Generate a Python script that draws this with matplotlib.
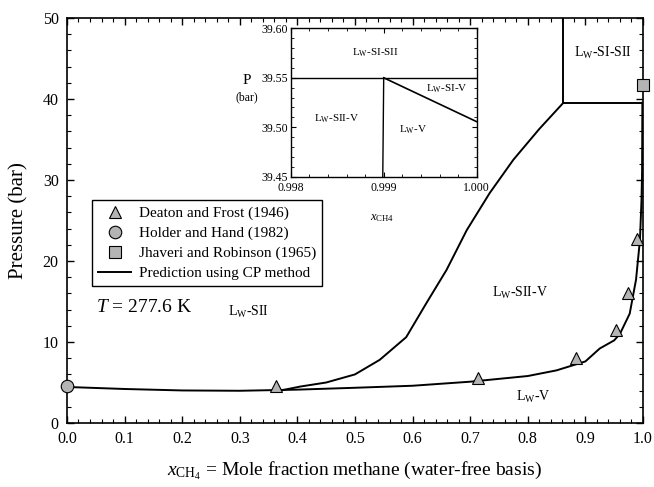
import numpy as np
import matplotlib
matplotlib.use('Agg')
import matplotlib.pyplot as plt
from matplotlib.ticker import MultipleLocator, FormatStrFormatter

plt.rcParams['font.family'] = ['Liberation Serif', 'DejaVu Serif']
plt.rcParams['mathtext.fontset'] = 'custom'
plt.rcParams['mathtext.rm'] = 'Liberation Serif'
plt.rcParams['mathtext.it'] = 'Liberation Serif:italic'

# experimental data
deaton_x = [0.363, 0.713, 0.884, 0.953, 0.9745, 0.990]
deaton_p = [4.6, 5.6, 8.0, 11.5, 16.0, 22.7]
holder_x = [0.0]
holder_p = [4.6]
jhaveri_x = [1.0]
jhaveri_p = [41.7]

# CP prediction: Lw-V / Lw-SII-V boundary
lower_x = [0.0, 0.1, 0.2, 0.3, 0.4, 0.5, 0.6, 0.7, 0.8, 0.85, 0.9, 0.925,
           0.95, 0.96, 0.977, 0.988, 0.9948, 0.9975, 0.9985, 0.9988, 0.999]
lower_p = [4.45, 4.2, 4.02, 3.98, 4.12, 4.35, 4.6, 5.1, 5.8, 6.5, 7.6, 9.2,
           10.2, 11.0, 13.5, 17.7, 22.6, 27.5, 31.0, 35.8, 39.55]
# Lw-SII / Lw-SII-V boundary
upper_x = [0.37, 0.405, 0.45, 0.5, 0.543, 0.589, 0.624, 0.659, 0.694, 0.734,
           0.775, 0.82, 0.862]
upper_p = [4.0, 4.5, 5.0, 6.0, 7.8, 10.6, 14.8, 18.9, 23.8, 28.4,
           32.5, 36.3, 39.55]
# quadruple point lines
quad_x = 0.862
quad_p = 39.55

# inset (zoom near pure methane)
in_h_x = [0.998, 1.000]
in_h_p = [39.55, 39.55]
in_v_x = [0.99899, 0.999]
in_v_p = [39.45, 39.55]
in_d_x = [0.999, 1.000]
in_d_p = [39.55, 39.5056]

gray = '#b4b4b4'

fig = plt.figure(figsize=(6.54, 4.87), dpi=100)
ax = fig.add_axes([0.1024, 0.1314, 0.8807, 0.8316])

ax.plot(lower_x, lower_p, color='k', lw=1.4, zorder=2)
ax.plot(upper_x, upper_p, color='k', lw=1.4, zorder=2)
ax.plot([quad_x, 1.0], [quad_p, quad_p], color='k', lw=1.4, zorder=2)
ax.plot([quad_x, quad_x], [quad_p, 50], color='k', lw=1.4, zorder=2)
h0 = ax.get_lines()[0]

h1, = ax.plot(deaton_x, deaton_p, '^', ms=9, mfc=gray, mec='k', mew=0.8, ls='none',
              zorder=3, clip_on=False)
h2, = ax.plot(holder_x, holder_p, 'o', ms=9, mfc=gray, mec='k', mew=0.8, ls='none',
              zorder=3, clip_on=False)
h3, = ax.plot(jhaveri_x, jhaveri_p, 's', ms=8, mfc=gray, mec='k', mew=0.8, ls='none',
              zorder=3, clip_on=False)

ax.set_xlim(0, 1.0)
ax.set_ylim(0, 50)
ax.xaxis.set_major_locator(MultipleLocator(0.1))
ax.xaxis.set_minor_locator(MultipleLocator(0.02))
ax.yaxis.set_major_locator(MultipleLocator(10))
ax.yaxis.set_minor_locator(MultipleLocator(2))
ax.xaxis.set_major_formatter(FormatStrFormatter('%.1f'))
ax.tick_params(which='both', direction='in', top=True, right=True, labelsize=11.5, pad=6)
ax.tick_params(which='major', length=5, width=1)
ax.tick_params(which='minor', length=3, width=0.8)
for s in ax.spines.values():
    s.set_linewidth(1.2)

ax.set_xlabel(r'$x_{\mathrm{CH_4}}$ = Mole fraction methane (water-free basis)', fontsize=14, labelpad=9)
ax.set_ylabel('Pressure (bar)', fontsize=15, labelpad=10)

leg = ax.legend([h1, h2, h3, h0],
                ['Deaton and Frost (1946)', 'Holder and Hand (1982)',
                 'Jhaveri and Robinson (1965)', 'Prediction using CP method'],
                loc='upper left', bbox_to_anchor=(0.043, 0.55), fontsize=11,
                frameon=True, fancybox=False, edgecolor='k', framealpha=1,
                borderaxespad=0, handlelength=2.2, handletextpad=0.5,
                labelspacing=0.4, borderpad=0.4)
leg.get_frame().set_linewidth(1.0)

ax.text(0.05, 14.2, r'$T$ = 277.6 K', fontsize=14, va='center', ha='left')
ax.text(0.315, 13.7, r'L$_{\mathrm{W}}$-SII', fontsize=10, ha='center', va='center')
ax.text(0.787, 16.0, r'L$_{\mathrm{W}}$-SII-V', fontsize=10, ha='center', va='center')
ax.text(0.81, 3.25, r'L$_{\mathrm{W}}$-V', fontsize=10, ha='center', va='center')
ax.text(0.93, 45.7, r'L$_{\mathrm{W}}$-SI-SII', fontsize=10, ha='center', va='center')

# inset
ins = fig.add_axes([0.4445, 0.6372, 0.2844, 0.3047])
ins.plot(in_h_x, in_h_p, color='k', lw=1.0)
ins.plot(in_v_x, in_v_p, color='k', lw=1.0)
ins.plot(in_d_x, in_d_p, color='k', lw=1.2)
ins.set_xlim(0.998, 1.000)
ins.set_ylim(39.45, 39.60)
ins.xaxis.set_major_locator(MultipleLocator(0.001))
ins.xaxis.set_minor_locator(MultipleLocator(0.0002))
ins.yaxis.set_major_locator(MultipleLocator(0.05))
ins.yaxis.set_minor_locator(MultipleLocator(0.01))
ins.xaxis.set_major_formatter(FormatStrFormatter('%.3f'))
ins.yaxis.set_major_formatter(FormatStrFormatter('%.2f'))
ins.tick_params(which='both', direction='in', top=True, right=True, labelsize=8.5)
ins.tick_params(axis='x', pad=4)
ins.tick_params(axis='y', pad=2)
ins.tick_params(which='major', length=3.5, width=0.8)
ins.tick_params(which='minor', length=2, width=0.6)
for s in ins.spines.values():
    s.set_linewidth(1.0)

ins.text(0.998906, 39.575, r'L$_{\mathrm{W}}$-SI-SII', fontsize=8, ha='center', va='center')
ins.text(0.998494, 39.509, r'L$_{\mathrm{W}}$-SII-V', fontsize=8, ha='center', va='center')
ins.text(0.999315, 39.497, r'L$_{\mathrm{W}}$-V', fontsize=8, ha='center', va='center')
ins.text(0.999677, 39.539, r'L$_{\mathrm{W}}$-SI-V', fontsize=8, ha='center', va='center')

fig.text(247 / 654, 1 - 80 / 487, 'P', fontsize=11, ha='center', va='center')
fig.text(247 / 654, 1 - 97 / 487, '(bar)', fontsize=8.5, ha='center', va='center')
fig.text(382 / 654, 1 - 218 / 487, r'$x_{\mathrm{CH4}}$', fontsize=9, ha='center', va='center')

fig.savefig('out.png', dpi=100)
